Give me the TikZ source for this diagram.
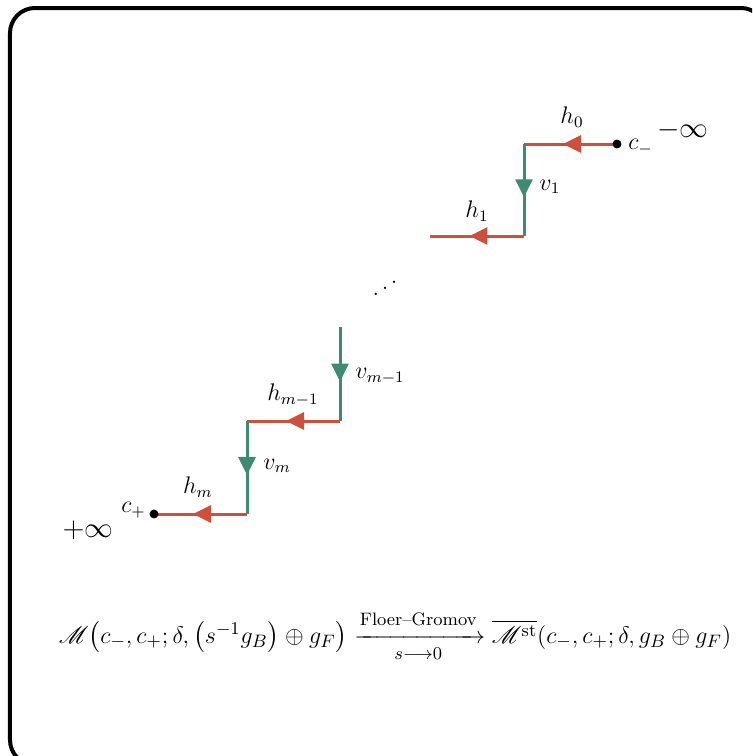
\documentclass[tikz,border=0pt]{standalone}
\usepackage{amsmath}
\usepackage{amssymb}
\usepackage{mathrsfs}
\usepackage{xcolor}
\usepackage{tikz}
\usetikzlibrary{arrows.meta,decorations.markings}

\definecolor{flowred}{RGB}{205,80,62}
\definecolor{flowgreen}{RGB}{62,138,114}

\begin{document}
\begin{tikzpicture}[x=25pt, y=-25pt, font=\large,
    hseg/.style={flowred, line width=1.5pt, postaction={decorate},
      decoration={markings, mark=at position 0.58 with {\arrow{Triangle[length=9pt,width=8.5pt]}}}},
    vseg/.style={flowgreen, line width=1.5pt, postaction={decorate},
      decoration={markings, mark=at position 0.58 with {\arrow{Triangle[length=9pt,width=8.5pt]}}}}]
  \useasboundingbox (0,0) rectangle (15.04,15.12);
  \clip (0,0) rectangle (15.04,15.12);
  % Frame
  \draw[line width=2pt, rounded corners=12.5pt] (0.2,0.16) rectangle (15.32,15.3);
  % Corners of the staircase
  \coordinate (cm) at (12.34,2.88);
  \coordinate (a0) at (10.48,2.88);
  \coordinate (a1) at (10.48,4.72);
  \coordinate (a2) at (8.6,4.72);
  \coordinate (b0) at (6.8,6.54);
  \coordinate (b1) at (6.8,8.42);
  \coordinate (b2) at (4.94,8.42);
  \coordinate (b3) at (4.94,10.28);
  \coordinate (cp) at (3.08,10.28);
  % Upper steps
  \draw[hseg] (cm) -- (a0);
  \draw[vseg] (a0) -- (a1);
  \draw[hseg] (a1) -- (a2);
  % Lower steps
  \draw[vseg] (b0) -- (b1);
  \draw[hseg] (b1) -- (b2);
  \draw[vseg] (b2) -- (b3);
  \draw[hseg] (b3) -- (cp);
  % End points
  \filldraw[black] (cm) circle (2pt);
  \filldraw[black] (cp) circle (2pt);
  \node[anchor=west, inner sep=1pt] (cmlabel) at (12.52,2.94) {$c_-$};
  \node[anchor=east, inner sep=1pt] (cplabel) at (2.96,10.2) {$c_+$};
  \node[font=\Large] (minf) at (13.66,2.6) {$-\infty$};
  \node[font=\Large] (pinf) at (1.76,10.6) {$+\infty$};
  % Labels of the pieces
  \node (h0) at (11.44,2.34) {$h_0$};
  \node[anchor=west, inner sep=1pt] (v1) at (10.74,3.74) {$v_1$};
  \node (h1) at (9.54,4.22) {$h_1$};
  \node (dots) at (7.7,5.64) {\reflectbox{$\ddots$}};
  \node[anchor=west, inner sep=1pt] (vm1) at (7.06,7.52) {$v_{m-1}$};
  \node (hm1) at (5.86,7.9) {$h_{m-1}$};
  \node[anchor=west, inner sep=1pt] (vm) at (5.22,9.32) {$v_m$};
  \node (hm) at (3.96,9.74) {$h_m$};
  % Limit statement
  \node[font=\fontsize{13}{16}\selectfont] (limit) at (7.9,12.72)
    {$\mathscr{M}\bigl(c_-,c_+;\delta,\bigl(s^{-1}g_B\bigr)\oplus g_F\bigr)
      \xrightarrow[s\longrightarrow 0]{\raisebox{2pt}{\small Floer--Gromov}}
      \overline{\mathscr{M}^{\mathrm{st}}}(c_-,c_+;\delta,g_B\oplus g_F)$};
\end{tikzpicture}
\end{document}
